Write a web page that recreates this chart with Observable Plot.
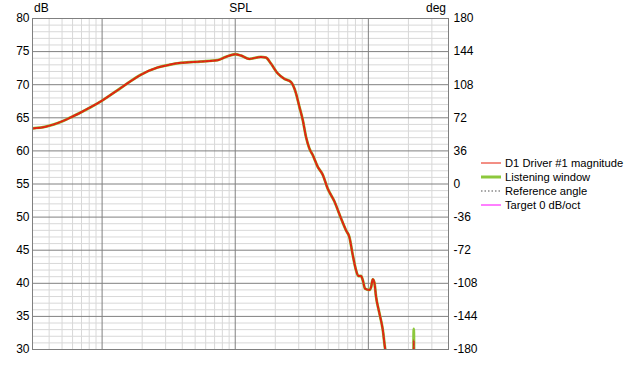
<!DOCTYPE html>
<html>
<head>
<meta charset="utf-8">
<script src="https://cdn.jsdelivr.net/npm/d3@7"></script>
<script src="https://cdn.jsdelivr.net/npm/@observablehq/plot@0.6"></script>
<style>
  body { margin: 0; background: #fff; }
  #wrap { position: relative; width: 631px; height: 368px; font-family: "Liberation Sans", Arial, sans-serif; font-size: 12px; color: #000; }
  .lbl { position: absolute; white-space: nowrap; line-height: 14px; }
  #legend { position: absolute; left: 481px; top: 156px; width: 150px; white-space: nowrap; font-size: 11.2px; }
  #legend .row { display: flex; align-items: center; height: 14px; white-space: nowrap; }
  #legend svg { width: 22px; height: 6px; margin-right: 2px; flex: none; }
</style>
</head>
<body>
<div id="wrap">
  <div id="chart"></div>
  <div class="lbl" style="left:0;width:481px;top:1px;text-align:center;">SPL</div>
  <div class="lbl" style="left:34px;top:1px;">dB</div>
  <div class="lbl" style="right:185px;top:1px;">deg</div>
  <div id="legend"></div>
</div>
<script>
// ---- data ----
const freqHz = [30, 37.7, 43.5, 52, 60, 69, 82, 100, 138, 195, 261, 319, 391, 552, 737, 851, 1000, 1104, 1274, 1560, 1702, 1854, 2084, 2336, 2623, 2860, 3030, 3213, 3403, 3600, 3818, 4165, 4543, 4952, 5550, 6234, 6797, 7197, 7631, 8075, 8410, 8814, 9073, 9443, 10180, 10480, 10790, 11100, 11420, 12100, 12830, 13350, 14500, 17000, 21000, 21700, 21930, 22200, 23000];
const driverDb = [63.4, 63.65, 64.0, 64.6, 65.2, 65.8, 66.6, 67.6, 69.5, 71.5, 72.6, 73.0, 73.3, 73.5, 73.7, 74.2, 74.6, 74.4, 73.9, 74.2, 74.1, 73.2, 71.7, 70.9, 70.4, 68.7, 66.7, 64.7, 62.1, 60.4, 59.4, 57.6, 56.4, 54.3, 52.4, 49.8, 48.0, 47.0, 44.3, 42.0, 41.1, 41.1, 40.5, 39.2, 39.0, 39.4, 40.6, 40.1, 38.0, 35.5, 33.0, 30.2, 27.5, 22, 18, 22, 31.4, 22, 18];
const listeningDb = [63.4, 63.65, 64.0, 64.6, 65.2, 65.8, 66.6, 67.6, 69.5, 71.5, 72.6, 73.0, 73.3, 73.5, 73.7, 74.2, 74.6, 74.4, 73.9, 74.2, 74.1, 73.2, 71.7, 70.9, 70.4, 68.7, 66.7, 64.7, 62.1, 60.4, 59.4, 57.6, 56.4, 54.3, 52.4, 49.8, 48.0, 47.0, 44.3, 42.0, 41.1, 41.1, 40.5, 39.2, 39.0, 39.4, 40.6, 40.1, 38.0, 35.5, 33.0, 30.2, 27.5, 22, 18, 22, 33.1, 22, 18];
const xTickValues = [50, 100, 200, 500, 1000, 2000, 5000, 10000, 20000];
const xTickLabels = ["50Hz", "100", "200", "500", "1k", "2k", "5k", "10k", "20k"];
const yTickValues = [30, 35, 40, 45, 50, 55, 60, 65, 70, 75, 80];
const degTickLabels = ["-180", "-144", "-108", "-72", "-36", "0", "36", "72", "108", "144", "180"];
const seriesNames = ["D1 Driver #1 magnitude", "Listening window", "Reference angle", "Target 0 dB/oct"];
const seriesColors = ["#e61e0a", "#8cc83c", "#8a8a8a", "#ff00ff"];

// ---- grid positions ----
const majorX = [100, 1000, 10000];
const minorX = [];
for (const dec of [10, 100, 1000, 10000]) for (let k = 2; k <= 9; k++) { const v = k * dec; if (v > 30 && v < 40000 && !majorX.includes(v)) minorX.push(v); }
const minorY = d3.range(31, 80).filter(v => v % 5 !== 0);
const majorY = yTickValues.filter(v => v > 30 && v < 80);

const data = freqHz.map((f, i) => ({f, drv: driverDb[i], lw: listeningDb[i]}));

const chart = Plot.plot({
  width: 631, height: 368,
  marginLeft: 32, marginRight: 183, marginTop: 18, marginBottom: 19,
  style: {fontFamily: '"Liberation Sans", Arial, sans-serif', fontSize: "12px", color: "#000", background: "#fff"},
  x: {type: "log", domain: [30, 40000]},
  y: {domain: [30, 80]},
  marks: [
    Plot.ruleX(minorX, {stroke: "#d8d8d8", strokeWidth: 1}),
    Plot.ruleY(minorY, {stroke: "#d8d8d8", strokeWidth: 1}),
    Plot.ruleX(majorX, {stroke: "#808080", strokeWidth: 1}),
    Plot.ruleY(majorY, {stroke: "#808080", strokeWidth: 1}),
    Plot.line(data, {x: "f", y: "lw", stroke: seriesColors[1], strokeWidth: 2.8, curve: "monotone-x", clip: true}),
    Plot.line(data, {x: "f", y: "drv", stroke: seriesColors[0], strokeWidth: 2, curve: "monotone-x", clip: true}),
    Plot.line(data, {x: "f", y: "drv", stroke: seriesColors[2], strokeWidth: 0.8, strokeDasharray: "1,3", strokeOpacity: 0.35, curve: "monotone-x", clip: true}),
    Plot.frame({stroke: "#808080"}),
    Plot.axisX({ticks: xTickValues, tickFormat: (d, i) => xTickLabels[i], tickSize: 0, tickPadding: 3, label: null}),
    Plot.axisY({ticks: yTickValues, tickSize: 0, tickPadding: 3, label: null}),
    Plot.axisY({anchor: "right", ticks: yTickValues, tickFormat: (d, i) => degTickLabels[i], tickSize: 0, tickPadding: 5, textAnchor: "start", label: null})
  ]
});
document.getElementById("chart").appendChild(chart);

// ---- legend ----
const legend = document.getElementById("legend");
seriesNames.forEach((name, i) => {
  const row = document.createElement("div");
  row.className = "row";
  let line;
  if (i === 1) line = `<line x1="0" y1="3" x2="20" y2="3" stroke="${seriesColors[i]}" stroke-width="3"/>`;
  else if (i === 2) line = `<line x1="0" y1="3" x2="20" y2="3" stroke="${seriesColors[i]}" stroke-width="1.5" stroke-dasharray="1.5,2"/>`;
  else line = `<line x1="0" y1="3" x2="20" y2="3" stroke="${seriesColors[i]}" stroke-width="1"/>`;
  row.innerHTML = `<svg viewBox="0 0 22 6">${line}</svg><span>${name}</span>`;
  legend.appendChild(row);
});
</script>
</body>
</html>
